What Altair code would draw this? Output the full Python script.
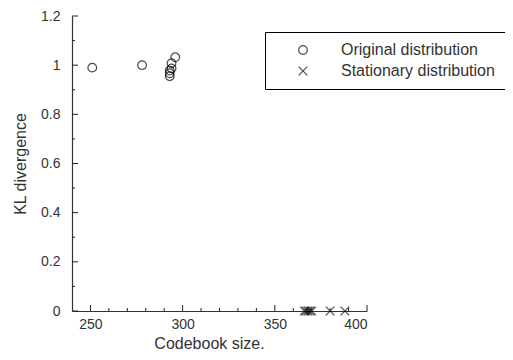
import altair as alt
import pandas as pd

# data
orig_x = [251, 278, 293, 293, 293, 294, 294, 296]
orig_y = [0.99, 1.00, 0.955, 0.967, 0.978, 0.987, 1.008, 1.032]
stat_x = [366, 367, 368, 369, 370, 380, 388]
stat_y = [0, 0, 0, 0, 0, 0, 0]
series = ["Original distribution", "Stationary distribution"]

x_major = [250, 300, 350, 400]
x_minor = [260, 270, 280, 290, 310, 320, 330, 340, 360, 370, 380, 390]
y_major = [0, 0.2, 0.4, 0.6, 0.8, 1.0, 1.2]
y_minor = [0.1, 0.3, 0.5, 0.7, 0.9, 1.1]

df = pd.DataFrame({
    "size": orig_x + stat_x,
    "kl": orig_y + stat_y,
    "series": [series[0]] * len(orig_x) + [series[1]] * len(stat_x),
})

W, H = 295, 295
FONT = "Liberation Sans"
TXT = "#333333"
TICK = "#222222"

xscale = alt.Scale(domain=[240, 400], nice=False, zero=False)
yscale = alt.Scale(domain=[0, 1.2], nice=False)

points = alt.Chart(df).mark_point(filled=False, strokeWidth=1.2, size=75, clip=False, color="black").encode(
    x=alt.X("size:Q", scale=xscale,
            axis=alt.Axis(title="Codebook size.", values=x_major, ticks=False, tickSize=0,
                          labelPadding=6, titlePadding=4, grid=False, titleX=137)),
    y=alt.Y("kl:Q", scale=yscale,
            axis=alt.Axis(title="KL divergence", values=y_major, format="~g", ticks=False,
                          tickSize=0, labelPadding=12, titlePadding=12, grid=False)),
    shape=alt.Shape("series:N",
                    scale=alt.Scale(domain=series, range=["circle", "M-1,-1L1,1M-1,1L1,-1"]),
                    legend=alt.Legend(title=None, orient="none", legendX=193, legendY=16,
                                      strokeColor="black", fillColor="white", padding=10,
                                      symbolOffset=20, labelOffset=30, rowPadding=5,
                                      symbolSize=75, symbolStrokeColor="black",
                                      symbolStrokeWidth=1.2, symbolType="circle",
                                      labelFontSize=16, labelFont=FONT, labelColor=TXT)),
)

ym = alt.Chart(pd.DataFrame({"v": y_major})).mark_rule(color=TICK, strokeWidth=1).encode(
    y=alt.Y("v:Q", scale=yscale), x=alt.value(0), x2=alt.value(6))
yn = alt.Chart(pd.DataFrame({"v": y_minor})).mark_rule(color=TICK, strokeWidth=1).encode(
    y=alt.Y("v:Q", scale=yscale), x=alt.value(0), x2=alt.value(3))
xm = alt.Chart(pd.DataFrame({"w": x_major})).mark_rule(color=TICK, strokeWidth=1).encode(
    x=alt.X("w:Q", scale=xscale), y=alt.value(H), y2=alt.value(H - 6))
xn = alt.Chart(pd.DataFrame({"w": x_minor})).mark_rule(color=TICK, strokeWidth=1).encode(
    x=alt.X("w:Q", scale=xscale), y=alt.value(H), y2=alt.value(H - 3))

chart = alt.layer(points, ym, yn, xm, xn).properties(
    width=W, height=H,
    autosize=alt.AutoSizeParams(type="none"),
    padding={"left": 64, "top": 8, "right": 138, "bottom": 40},
).configure_view(stroke=None).configure_axis(
    domainColor="#333", domainWidth=1.2, labelFont=FONT, titleFont=FONT,
    labelFontSize=14, titleFontSize=16, labelColor=TXT, titleColor=TXT,
    titleFontWeight="normal",
).configure_axisY(labelAlign="right")

chart.save("out.html", embed_options={"renderer": "svg", "actions": False})
